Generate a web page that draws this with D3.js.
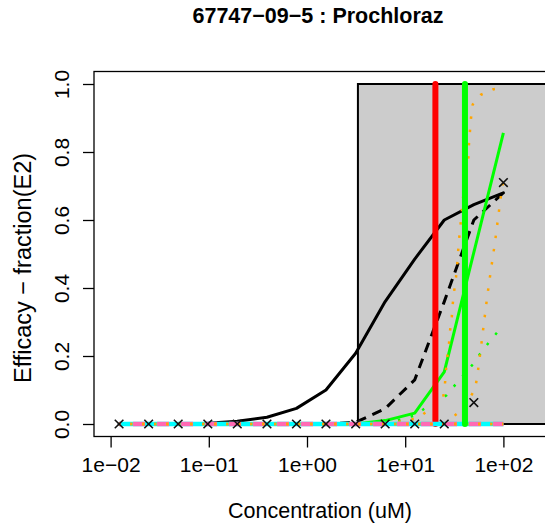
<!DOCTYPE html>
<html>
<head>
<meta charset="utf-8">
<script src="https://cdn.jsdelivr.net/npm/d3@7"></script>
<style>
  html, body { margin: 0; padding: 0; background: #fff; }
  svg { display: block; font-family: "Liberation Sans", Arial, Helvetica, sans-serif; }
</style>
</head>
<body>
<svg id="chart" width="545" height="527"></svg>
<script>
// ---------------- data ----------------
const title = "67747\u221209\u22125 : Prochloraz";
const xLabel = "Concentration (uM)";
const yLabel = "Efficacy \u2212 fraction(E2)";

const conc = [0.0122, 0.0244, 0.0488, 0.0977, 0.195, 0.391, 0.781, 1.56, 3.13, 6.25, 12.5, 25, 50, 100];
const observed   = [0, 0, 0, 0, 0, 0, 0, 0, 0, 0, 0, 0, 0.063, 0.71];
const fitSolid   = [0, 0, 0.0005, 0.002, 0.008, 0.02, 0.046, 0.10, 0.208, 0.36, 0.485, 0.60, 0.645, 0.68];
const fitDashed  = [0, 0, 0, 0, 0, 0, 0, 0, 0.005, 0.045, 0.13, 0.36, 0.60, 0.68];
const fitGreen   = [0, 0, 0, 0, 0, 0, 0, 0, 0, 0.01, 0.032, 0.153, 0.505, 0.856];
const cyanVals   = [0, 0, 0, 0, 0, 0, 0, 0, 0, 0, 0, 0, 0, 0];
const pinkVals   = [0, 0, 0, 0, 0, 0, 0, 0, 0, 0, 0, 0, 0, 0];
const orangeBase = [0, 0, 0, 0, 0, 0, 0, 0, 0, 0, 0, 0, 0, 0];

const greenDotConc = [6.25, 12.5, 15.5, 20.4, 26.5, 32.7, 49, 58.7, 71.3, 86.7, 100];
const greenDotVals = [0, 0.025, 0.044, 0.064, 0.085, 0.117, 0.176, 0.209, 0.24, 0.27, 0.29];

const orangeAConc = [6.25, 12.5, 15.3, 19.3, 24.4, 25.4, 26.0, 26.8, 27.9, 28.6, 29.8, 30.5, 31.6, 32.9, 33.9, 34.7, 35.6, 36.7, 39.6, 44.0, 44.6, 45.7, 46.8, 48.7, 58.7, 77.8, 100];
const orangeAVals = [0, 0.015, 0.029, 0.053, 0.079, 0.118, 0.157, 0.196, 0.235, 0.274, 0.315, 0.353, 0.394, 0.431, 0.471, 0.512, 0.551, 0.59, 0.69, 0.784, 0.824, 0.863, 0.90, 0.94, 0.968, 0.984, 0.99];

const orangeBConc = [25, 29.8, 37.6, 44, 51.4, 54.2, 58.7, 63.5, 68.5, 74.8, 82, 88.7, 96.1, 100];
const orangeBVals = [0, 0.018, 0.041, 0.07, 0.102, 0.141, 0.218, 0.299, 0.376, 0.455, 0.533, 0.611, 0.688, 0.72];

const grayRegionFrom = 3.3;
const grayRegionTo = 10000;
const redLineConc = 20.3;
const greenLineConc = 40.6;

const xTicks = [0.01, 0.1, 1, 10, 100];
const xTickLabels = ["1e\u221202", "1e\u221201", "1e+00", "1e+01", "1e+02"];
const yTicks = [0, 0.2, 0.4, 0.6, 0.8, 1.0];
const yTickLabels = ["0.0", "0.2", "0.4", "0.6", "0.8", "1.0"];

// ---------------- layout ----------------
const svg = d3.select("#chart");
const frame = { left: 94, top: 71.5, right: 560, bottom: 436.5 };

const x = d3.scaleLog().domain([0.01, 100]).range([110.6, 503.4]);
const y = d3.scaleLinear().domain([0, 1]).range([424, 84]);

const toPts = (cs, vs) => cs.map((c, i) => [c, vs[i]]);
const line = d3.line().x(d => x(d[0])).y(d => y(d[1]));

// clip to plot frame
svg.append("defs").append("clipPath").attr("id", "plotclip")
  .append("rect").attr("x", frame.left).attr("y", frame.top)
  .attr("width", frame.right - frame.left).attr("height", frame.bottom - frame.top);

const g = svg.append("g").attr("clip-path", "url(#plotclip)");

// gray region
g.append("rect")
  .attr("x", x(grayRegionFrom)).attr("y", y(1))
  .attr("width", x(grayRegionTo) - x(grayRegionFrom))
  .attr("height", y(0) - y(1))
  .attr("fill", "#cccccc").attr("stroke", "#000").attr("stroke-width", 2);

// fitted curves
g.append("path").datum(toPts(conc, fitSolid)).attr("d", line)
  .attr("fill", "none").attr("stroke", "#000").attr("stroke-width", 3).attr("stroke-linejoin", "round").attr("stroke-linecap", "round");
g.append("path").datum(toPts(conc, fitDashed)).attr("d", line)
  .attr("fill", "none").attr("stroke", "#000").attr("stroke-width", 3).attr("stroke-dasharray", "10,7");
g.append("path").datum(toPts(conc, fitGreen)).attr("d", line)
  .attr("fill", "none").attr("stroke", "#00ff00").attr("stroke-width", 3).attr("stroke-linejoin", "round");

// dotted bounds
g.append("path").datum(toPts(greenDotConc, greenDotVals)).attr("d", line)
  .attr("fill", "none").attr("stroke", "#00ff00").attr("stroke-width", 2.5).attr("stroke-dasharray", "2.5,10.8");
g.append("path").datum(toPts(orangeAConc, orangeAVals)).attr("d", line)
  .attr("fill", "none").attr("stroke", "#ffa500").attr("stroke-width", 2.5).attr("stroke-dasharray", "2.5,10.8");
g.append("path").datum(toPts(orangeBConc, orangeBVals)).attr("d", line)
  .attr("fill", "none").attr("stroke", "#ffa500").attr("stroke-width", 2.5).attr("stroke-dasharray", "2.5,10.8");

// red vertical line
g.append("line")
  .attr("x1", x(redLineConc)).attr("x2", x(redLineConc))
  .attr("y1", y(0)).attr("y2", y(1))
  .attr("stroke", "#ff0000").attr("stroke-width", 6).attr("stroke-linecap", "round");

// baseline series
g.append("path").datum(toPts(conc, cyanVals)).attr("d", line)
  .attr("fill", "none").attr("stroke", "#00ffff").attr("stroke-width", 4.5);
g.append("path").datum(toPts(conc, pinkVals)).attr("d", line)
  .attr("fill", "none").attr("stroke", "#ff69b4").attr("stroke-width", 4.5).attr("stroke-dasharray", "12,12").attr("stroke-dashoffset", -14);
g.append("path").datum(toPts(conc, orangeBase)).attr("d", line)
  .attr("fill", "none").attr("stroke", "#ffa500").attr("stroke-width", 3).attr("stroke-dasharray", "2.5,9.5").attr("stroke-dashoffset", -11);

// green vertical line
g.append("line")
  .attr("x1", x(greenLineConc)).attr("x2", x(greenLineConc))
  .attr("y1", y(0)).attr("y2", y(1))
  .attr("stroke", "#00ff00").attr("stroke-width", 6).attr("stroke-linecap", "round");

// observed points (x markers)
const ms = 4.3;
g.selectAll("path.obs").data(toPts(conc, observed)).enter().append("path")
  .attr("class", "obs")
  .attr("d", d => {
    const cx = x(d[0]), cy = y(d[1]);
    return `M${cx - ms},${cy - ms}L${cx + ms},${cy + ms}M${cx - ms},${cy + ms}L${cx + ms},${cy - ms}`;
  })
  .attr("stroke", "#111").attr("stroke-width", 1.6).attr("fill", "none");

// frame (box)
svg.append("rect")
  .attr("x", frame.left).attr("y", frame.top)
  .attr("width", frame.right - frame.left).attr("height", frame.bottom - frame.top)
  .attr("fill", "none").attr("stroke", "#000").attr("stroke-width", 1.3);

// y axis ticks & labels
const yAxis = d3.axisLeft(y).tickValues(yTicks).tickSize(11).tickPadding(0)
  .tickFormat((d, i) => yTickLabels[i]);
const yg = svg.append("g").attr("transform", `translate(${frame.left},0)`).call(yAxis);
yg.select(".domain").remove();
yg.selectAll(".tick line").attr("stroke", "#000").attr("stroke-width", 1.3);
yg.selectAll(".tick text")
  .attr("x", 0).attr("dy", null).attr("y", 0)
  .attr("text-anchor", "middle")
  .attr("transform", "translate(-25,0) rotate(-90)")
  .attr("font-size", 21).attr("fill", "#000")
  .attr("font-family", "Liberation Sans, Arial, sans-serif");

// x axis ticks & labels
const xAxis = d3.axisBottom(x).tickValues(xTicks).tickSize(11).tickPadding(0)
  .tickFormat((d, i) => xTickLabels[i]);
const xg = svg.append("g").attr("transform", `translate(0,${frame.bottom})`).call(xAxis);
xg.select(".domain").remove();
xg.selectAll(".tick line").attr("stroke", "#000").attr("stroke-width", 1.3);
xg.selectAll(".tick text")
  .attr("y", 35).attr("dy", null)
  .attr("font-size", 21).attr("fill", "#000")
  .attr("font-family", "Liberation Sans, Arial, sans-serif");

// axis titles
svg.append("text").attr("x", 320).attr("y", 518).attr("text-anchor", "middle")
  .attr("font-size", 21.5).attr("fill", "#000").text(xLabel);
svg.append("text").attr("transform", "translate(31,268) rotate(-90)").attr("text-anchor", "middle")
  .attr("font-size", 23.5).attr("fill", "#000").text(yLabel);

// title
svg.append("text").attr("x", 318).attr("y", 23).attr("text-anchor", "middle")
  .attr("font-size", 21.5).attr("font-weight", "bold").attr("fill", "#000").text(title);
</script>
</body>
</html>
